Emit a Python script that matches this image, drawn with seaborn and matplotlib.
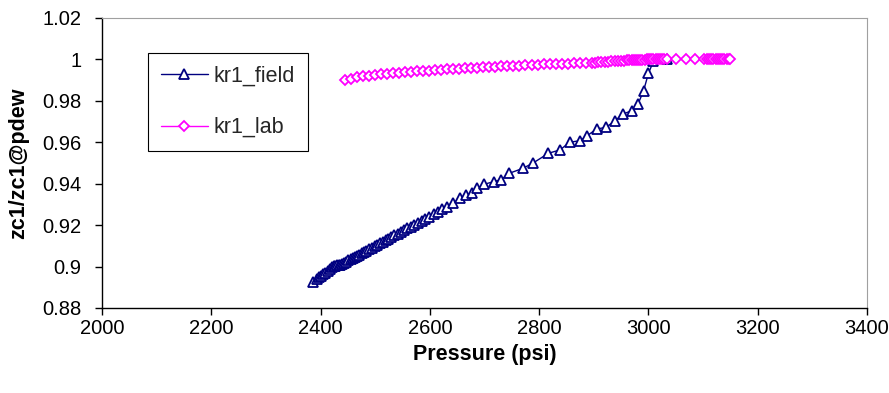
import matplotlib
matplotlib.use("Agg")
import matplotlib.pyplot as plt
import seaborn as sns
import pandas as pd

field_p = [2387, 2393, 2397, 2401, 2405, 2409, 2413, 2417, 2421, 2424, 2427, 2430, 2433, 2436, 2439,
           2443, 2447, 2451, 2455, 2459, 2463, 2467, 2471, 2475, 2479, 2484, 2489, 2494, 2499, 2504,
           2509, 2514, 2519, 2524, 2529, 2535, 2541, 2547, 2553, 2559, 2565, 2571, 2578, 2585, 2592,
           2599, 2607, 2615, 2623, 2631, 2643, 2655, 2667, 2678, 2687, 2699, 2717, 2731, 2745, 2770,
           2789, 2817, 2838, 2856, 2875, 2888, 2905, 2922, 2939, 2953, 2969, 2981, 2991, 3000, 3009,
           3034]
field_v = [0.8927, 0.8940, 0.8948, 0.8955, 0.8962, 0.8970, 0.8980, 0.8990, 0.8998, 0.9003, 0.9005,
           0.9007, 0.9008, 0.9009, 0.9012,
           0.9018, 0.9024, 0.9030, 0.9036, 0.9041, 0.9047, 0.9053, 0.9058, 0.9064, 0.9070, 0.9077,
           0.9084, 0.9091, 0.9099, 0.9106, 0.9113, 0.9120, 0.9127, 0.9135, 0.9142, 0.9150, 0.9159,
           0.9167, 0.9176, 0.9184, 0.9193, 0.9201, 0.9211, 0.9221, 0.9231, 0.9241, 0.9253, 0.9264,
           0.9276, 0.9288, 0.9305, 0.9332, 0.9345, 0.9356, 0.9378, 0.9397, 0.9410, 0.9420, 0.9450,
           0.9474, 0.9500, 0.9547, 0.9563, 0.9600, 0.9608, 0.9632, 0.9664, 0.9672, 0.9704, 0.9736,
           0.9752, 0.9785, 0.9848, 0.9933, 0.9990,
           1.0]

lab_p = [2445, 2456, 2467, 2478, 2489, 2500, 2511, 2522, 2533, 2544, 2555, 2566, 2577, 2588, 2599,
         2610, 2621, 2632, 2643, 2654, 2665, 2676, 2687, 2698, 2709, 2720, 2731, 2742, 2753, 2764,
         2775, 2786, 2797, 2808, 2819, 2830, 2841, 2852, 2863, 2874, 2885, 2896,
         2902, 2908, 2914, 2920, 2926, 2932, 2938, 2944, 2950, 2956, 2961,
         2965, 2969, 2973, 2977, 2981, 2985, 2989, 2993, 2997, 3001, 3005, 3009, 3013, 3017, 3021,
         3025, 3029, 3034,
         3051, 3068, 3085, 3102,
         3107, 3111, 3115, 3119, 3123, 3127, 3131, 3135, 3139, 3143, 3147, 3149]
lab_v = [0.9900, 0.9907, 0.9913, 0.9918, 0.9922, 0.9926, 0.9929, 0.9932, 0.9934, 0.9936, 0.9938,
         0.9940, 0.9942, 0.9944, 0.9946, 0.9948, 0.9950, 0.9952, 0.9954, 0.9955, 0.9957, 0.9959,
         0.9960, 0.9962, 0.9963, 0.9965, 0.9966, 0.9968, 0.9969, 0.9970, 0.9972, 0.9973, 0.9974,
         0.9976, 0.9977, 0.9978, 0.9979, 0.9980, 0.9981, 0.9982, 0.9983, 0.9984,
         0.9985, 0.9986, 0.9987, 0.9988, 0.9989, 0.9990, 0.9991, 0.9992, 0.9993, 0.9994, 0.9995,
         0.9996, 0.9996, 0.9997, 0.9997, 0.9998, 0.9998, 0.9999, 0.9999, 1.0, 1.0, 1.0, 1.0, 1.0,
         1.0, 1.0, 1.0, 1.0, 1.0,
         1.0, 1.0, 1.0, 1.0,
         1.0, 1.0, 1.0, 1.0, 1.0, 1.0, 1.0, 1.0, 1.0, 1.0, 1.0, 1.0]

x_ticks = [2000, 2200, 2400, 2600, 2800, 3000, 3200, 3400]
y_ticks = [0.88, 0.9, 0.92, 0.94, 0.96, 0.98, 1.0, 1.02]
y_tick_labels = ["0.88", "0.9", "0.92", "0.94", "0.96", "0.98", "1", "1.02"]

sns.set_style("white")
plt.rcParams['font.family'] = ['Liberation Sans', 'DejaVu Sans']

fig = plt.figure(figsize=(8.89, 3.93), dpi=100)
ax = fig.add_axes([0.1147, 0.2163, 0.8606, 0.7379])

df_field = pd.DataFrame({"p": field_p, "v": field_v})
df_lab = pd.DataFrame({"p": lab_p, "v": lab_v})

sns.lineplot(data=df_field, x="p", y="v", ax=ax, color="#000080", linewidth=1.0,
             marker="^", markersize=7.5, markerfacecolor="white", markeredgecolor="#000080",
             markeredgewidth=1.3, sort=False, estimator=None, label="kr1_field")
sns.lineplot(data=df_lab, x="p", y="v", ax=ax, color="#FF00FF", linewidth=1.0,
             marker="D", markersize=5, markerfacecolor="white", markeredgecolor="#FF00FF",
             markeredgewidth=1.3, sort=False, estimator=None, label="kr1_lab")

ax.set_xlim(2000, 3400)
ax.set_ylim(0.88, 1.02)
ax.set_xticks(x_ticks)
ax.set_xticklabels([str(t) for t in x_ticks])
ax.set_yticks(y_ticks)
ax.set_yticklabels(y_tick_labels)
ax.tick_params(axis='both', which='major', labelsize=14.5, direction='out', length=5,
               width=1, color='black', bottom=True, left=True, labelcolor='black')
ax.tick_params(axis='y', pad=10)
ax.tick_params(axis='x', pad=3)

for s in ['left', 'bottom']:
    ax.spines[s].set_color('black')
    ax.spines[s].set_linewidth(1.0)
for s in ['top', 'right']:
    ax.spines[s].set_color('#a0a0a0')
    ax.spines[s].set_linewidth(0.8)

ax.set_xlabel("Pressure (psi)", fontsize=15.5, fontweight='bold', labelpad=4, color='black')
ax.set_ylabel("zc1/zc1@pdew", fontsize=15.5, fontweight='bold', labelpad=9, color='black')

leg = ax.legend(loc='upper left', bbox_to_anchor=(0.06, 0.879), borderaxespad=0, fontsize=15.5,
                frameon=True, fancybox=False, edgecolor='black', framealpha=1,
                labelspacing=1.4, handlelength=2.2, borderpad=0.6, handletextpad=0.25)
leg.get_frame().set_linewidth(0.8)

fig.savefig("out.png", dpi=100)
